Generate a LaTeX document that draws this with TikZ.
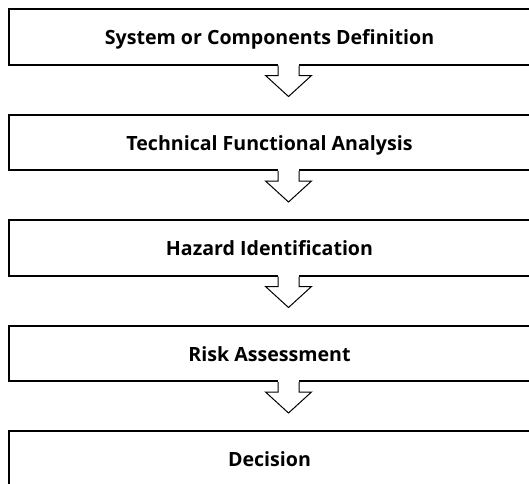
\documentclass[tikz,border=0pt]{standalone}
\usepackage{fontspec}
\setmainfont{Open Sans}
\begin{document}
\begin{tikzpicture}[x=1pt,y=-1pt,
  stagebox/.style={draw=black,line width=2pt,fill=white,minimum width=540pt,minimum height=55.5pt,anchor=north west,inner sep=0pt},
  stagetext/.style={font=\bfseries\fontsize{19.6}{23}\selectfont,anchor=base,inner sep=0pt},
  flowarrow/.style={draw=black,line width=1pt,fill=white,line join=miter}]
\useasboundingbox (0,0) rectangle (529,483);
\clip (0,0) rectangle (529,483);
\foreach \i/\t/\n in {0/System or Components Definition/b1,1/Technical Functional Analysis/b2,2/Hazard Identification/b3,3/Risk Assessment/b4,4/Decision/b5}{
  \node[stagebox] (\n) at (8,{8+105.5*\i}) {};
  \node[stagetext] (\n t) at (269.5,{44.5+105.5*\i}) {\t};
}
\foreach \n in {b1,b2,b3,b4}{
  \coordinate (s\n) at ([xshift=-261.5pt]\n.south east);
  \fill[white] ([xshift=-10.5pt,yshift=2pt]s\n) rectangle ([xshift=10.5pt,yshift=-10pt]s\n);
  \draw[flowarrow]
    ([xshift=-10.5pt]s\n) -- ++(0,10) -- ++(-12.5,0) -- ++(23,21) -- ++(23,-21) -- ++(-12.5,0) -- ++(0,-10);
}
\end{tikzpicture}
\end{document}
